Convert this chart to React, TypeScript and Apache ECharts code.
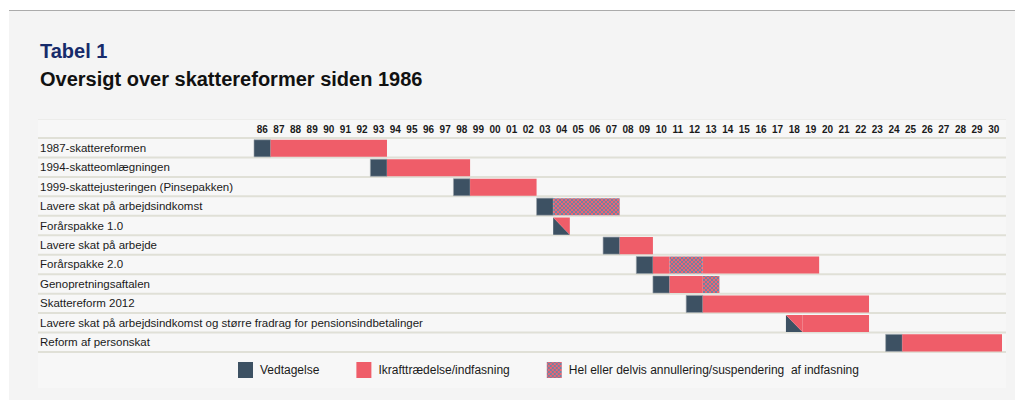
import React, { useEffect, useRef } from "react";
import * as echarts from "echarts";

const FONT = '"Liberation Sans", Arial, Helvetica, sans-serif';

const title = "Tabel 1";
const subtitle = "Oversigt over skattereformer siden 1986";

const years = [
  "86", "87", "88", "89", "90", "91", "92", "93", "94", "95", "96", "97", "98", "99",
  "00", "01", "02", "03", "04", "05", "06", "07", "08", "09", "10", "11", "12", "13",
  "14", "15", "16", "17", "18", "19", "20", "21", "22", "23", "24", "25", "26", "27",
  "28", "29", "30",
];

const reforms = [
  "1987-skattereformen",
  "1994-skatteomlægningen",
  "1999-skattejusteringen (Pinsepakken)",
  "Lavere skat på arbejdsindkomst",
  "Forårspakke 1.0",
  "Lavere skat på arbejde",
  "Forårspakke 2.0",
  "Genopretningsaftalen",
  "Skattereform 2012",
  "Lavere skat på arbejdsindkomst og større fradrag for pensionsindbetalinger",
  "Reform af personskat",
];

const legendNames = [
  "Vedtagelse",
  "Ikrafttrædelse/indfasning",
  "Hel eller delvis annullering/suspendering  af indfasning",
];

// Vedtagelse: [reform row, year]
const vedtagelse: [number, string][] = [
  [0, "86"], [1, "93"], [2, "98"], [3, "03"], [5, "07"],
  [6, "09"], [7, "10"], [8, "12"], [10, "24"],
];

// Ikrafttrædelse/indfasning: [row, from, to]
const ikraft: [number, string, string][] = [
  [0, "87", "93"], [1, "94", "98"], [2, "99", "02"], [5, "08", "09"],
  [6, "10", "10"], [6, "13", "19"], [7, "11", "12"], [8, "13", "22"],
  [9, "19", "22"], [10, "25", "30"],
];

// Annullering/suspendering: [row, from, to]
const annullering: [number, string, string][] = [
  [3, "04", "07"], [6, "11", "12"], [7, "13", "13"],
];

// Vedtaget og trådt i kraft samme år (delt celle): [row, year]
const sammeAar: [number, string][] = [[4, "04"], [9, "18"]];

const DARK = "#3d5163";
const RED = "#ef5d69";
const LINE = "#e0e0d7";
const TABLE_LEFT = 38;
const TABLE_RIGHT = 1006;

function cellRect(api: any, a: number, b: number, row: number) {
  const s = api.coord([a, row]);
  const e = api.coord([b, row]);
  const bw = api.size([1, 0])[0];
  const bh = api.size([0, 1])[1];
  const x = s[0] - bw / 2;
  const w = e[0] - s[0] + bw;
  const y = s[1] - bh / 2 + 1.8;
  const h = bh - 2.4;
  return { x, y, w, h };
}

export default function App() {
  const ref = useRef<HTMLDivElement>(null);

  useEffect(() => {
    if (!ref.current) return;
    const chart = echarts.init(ref.current, null, { renderer: "svg" });

    const cv = document.createElement("canvas");
    cv.width = 4;
    cv.height = 4;
    const ctx = cv.getContext("2d")!;
    ctx.fillStyle = "#ee6570";
    ctx.fillRect(0, 0, 4, 4);
    ctx.fillStyle = "#7282a4";
    for (let i = 0; i < 4; i++) {
      ctx.fillRect(i, i, 1, 1);
      ctx.fillRect(3 - i, i, 1, 1);
    }
    const hatch: any = { image: cv, repeat: "repeat", imageWidth: 4, imageHeight: 4 };

    const idx = (y: string) => years.indexOf(y);

    const vedData = [
      ...vedtagelse.map(([r, y]) => [idx(y), r, 0]),
      ...sammeAar.map(([r, y]) => [idx(y), r, 1]),
    ];
    const ikData = [
      ...ikraft.map(([r, a, b]) => [idx(a), idx(b), r, 0]),
      ...sammeAar.map(([r, y]) => [idx(y), idx(y), r, 1]),
    ];
    const annData = annullering.map(([r, a, b]) => [idx(a), idx(b), r]);

    const option: any = {
      animation: false,
      backgroundColor: "#ffffff",
      textStyle: { fontFamily: FONT },
      graphic: [
        { type: "rect", z: -10, shape: { x: 9, y: 10, width: 1006, height: 390 }, style: { fill: "#f4f4f4" } },
        { type: "line", z: -9, shape: { x1: 9, y1: 10.5, x2: 1015, y2: 10.5 }, style: { stroke: "#ababab", lineWidth: 1 } },
        { type: "rect", z: -8, shape: { x: TABLE_LEFT, y: 119, width: TABLE_RIGHT - TABLE_LEFT, height: 269 }, style: { fill: "#f7f7f7" } },
        { type: "line", z: -7, shape: { x1: TABLE_LEFT, y1: 119.5, x2: TABLE_RIGHT, y2: 119.5 }, style: { stroke: "#ececea", lineWidth: 1 } },
        {
          type: "text", left: 40, top: 41,
          style: { text: title, fill: "#172b6b", font: `bold 20px ${FONT}` },
        },
        {
          type: "text", left: 40, top: 69,
          style: { text: subtitle, fill: "#111111", font: `bold 20px ${FONT}` },
        },
      ],
      grid: { left: 254, right: 13, top: 138, bottom: 51 },
      legend: {
        left: 238,
        top: 362,
        padding: 0,
        icon: "rect",
        itemWidth: 15,
        itemHeight: 16,
        itemGap: 37,
        data: legendNames,
        textStyle: { fontSize: 12, color: "#1a1a1a", fontFamily: FONT, padding: [0, 0, 0, 2] },
        selectedMode: false,
      },
      xAxis: {
        type: "category",
        position: "top",
        data: years,
        boundaryGap: true,
        axisLine: { show: false },
        axisTick: { show: false },
        splitLine: { show: false },
        axisLabel: {
          interval: 0,
          margin: 4,
          fontSize: 10,
          fontWeight: "bold",
          color: "#1a1a1a",
          fontFamily: FONT,
        },
      },
      yAxis: {
        type: "category",
        inverse: true,
        data: reforms,
        axisLine: { show: false },
        axisTick: { show: false },
        splitLine: { show: false },
        axisLabel: {
          align: "left",
          margin: 214,
          fontSize: 11.5,
          color: "#1a1a1a",
          fontFamily: FONT,
        },
      },
      series: [
        {
          type: "custom",
          name: "rows",
          silent: true,
          z: 1,
          encode: { x: 0, y: 1 },
          data: reforms.map((_, i) => [0, i]),
          renderItem: (params: any, api: any) => {
            const row = api.value(1);
            const p = api.coord([0, row]);
            const bh = api.size([0, 1])[1];
            const w = TABLE_RIGHT - TABLE_LEFT;
            const children: any[] = [
              { type: "rect", shape: { x: TABLE_LEFT, y: p[1] + bh / 2 - 1, width: w, height: 2 }, style: { fill: LINE } },
            ];
            if (row === 0) {
              children.push({ type: "rect", shape: { x: TABLE_LEFT, y: p[1] - bh / 2 - 1, width: w, height: 2 }, style: { fill: LINE } });
            }
            return { type: "group", children };
          },
        },
        {
          type: "custom",
          name: legendNames[0],
          z: 3,
          itemStyle: { color: DARK },
          encode: { x: 0, y: 1 },
          data: vedData,
          renderItem: (params: any, api: any) => {
            const c = cellRect(api, api.value(0), api.value(0), api.value(1));
            const kind = api.value(2);
            if (kind === 1) {
              return {
                type: "polygon",
                shape: { points: [[c.x, c.y], [c.x, c.y + c.h], [c.x + c.w, c.y + c.h]] },
                style: { fill: DARK },
              };
            }
            return {
              type: "rect",
              shape: { x: c.x, y: c.y, width: c.w, height: c.h },
              style: { fill: DARK, stroke: "#9aa3aa", lineWidth: 0.6 },
            };
          },
        },
        {
          type: "custom",
          name: legendNames[1],
          z: 3,
          itemStyle: { color: RED },
          encode: { x: [0, 1], y: 2 },
          data: ikData,
          renderItem: (params: any, api: any) => {
            const c = cellRect(api, api.value(0), api.value(1), api.value(2));
            const kind = api.value(3);
            if (kind === 1) {
              return {
                type: "polygon",
                shape: { points: [[c.x, c.y], [c.x + c.w, c.y], [c.x + c.w, c.y + c.h]] },
                style: { fill: RED },
              };
            }
            return {
              type: "rect",
              shape: { x: c.x, y: c.y, width: c.w, height: c.h },
              style: { fill: RED },
            };
          },
        },
        {
          type: "custom",
          name: legendNames[2],
          z: 3,
          itemStyle: { color: hatch },
          encode: { x: [0, 1], y: 2 },
          data: annData,
          renderItem: (params: any, api: any) => {
            const c = cellRect(api, api.value(0), api.value(1), api.value(2));
            return {
              type: "rect",
              shape: { x: c.x, y: c.y, width: c.w, height: c.h },
              style: { fill: hatch },
            };
          },
        },
      ],
    };

    chart.setOption(option);
    return () => chart.dispose();
  }, []);

  return (
    <div
      ref={ref}
      style={{ position: "absolute", left: 0, top: 0, width: 1015, height: 403 }}
    />
  );
}
